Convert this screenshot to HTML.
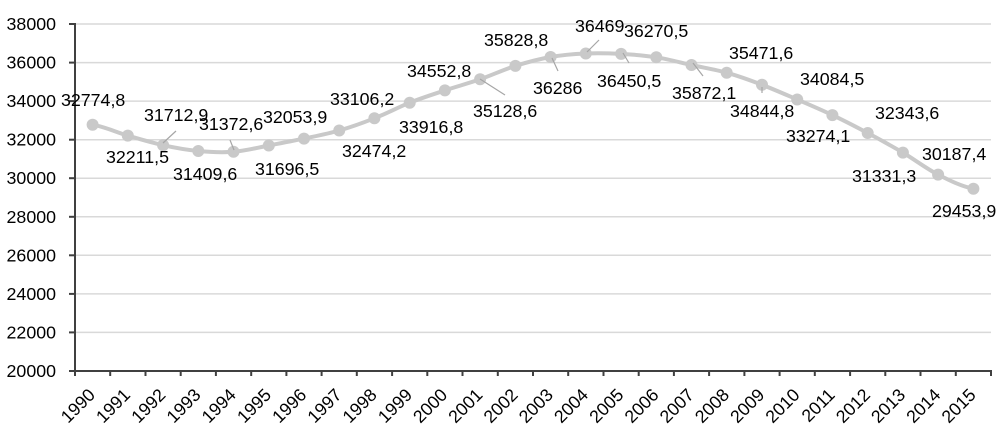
<!DOCTYPE html>
<html>
<head>
<meta charset="utf-8">
<style>
  html, body { margin: 0; padding: 0; background: #ffffff; }
  svg { display: block; }
  text { font-family: "Liberation Sans", sans-serif; font-size: 17.8px; fill: #000000; }
</style>
</head>
<body>
<svg width="1000" height="433" viewBox="0 0 1000 433" xmlns="http://www.w3.org/2000/svg">
  <!-- gridlines -->
  <g stroke="#d9d9d9" stroke-width="1.5">
    <line x1="75" y1="24" x2="991" y2="24"/>
    <line x1="75" y1="62.6" x2="991" y2="62.6"/>
    <line x1="75" y1="101.1" x2="991" y2="101.1"/>
    <line x1="75" y1="139.7" x2="991" y2="139.7"/>
    <line x1="75" y1="178.2" x2="991" y2="178.2"/>
    <line x1="75" y1="216.8" x2="991" y2="216.8"/>
    <line x1="75" y1="255.3" x2="991" y2="255.3"/>
    <line x1="75" y1="293.9" x2="991" y2="293.9"/>
    <line x1="75" y1="332.4" x2="991" y2="332.4"/>
  </g>
  <!-- axes -->
  <g stroke="#404040" stroke-width="2">
    <line x1="75" y1="23" x2="75" y2="372"/>
    <line x1="74" y1="371" x2="992" y2="371"/>
    <line x1="69" y1="24" x2="75" y2="24"/>
    <line x1="69" y1="62.6" x2="75" y2="62.6"/>
    <line x1="69" y1="101.1" x2="75" y2="101.1"/>
    <line x1="69" y1="139.7" x2="75" y2="139.7"/>
    <line x1="69" y1="178.2" x2="75" y2="178.2"/>
    <line x1="69" y1="216.8" x2="75" y2="216.8"/>
    <line x1="69" y1="255.3" x2="75" y2="255.3"/>
    <line x1="69" y1="293.9" x2="75" y2="293.9"/>
    <line x1="69" y1="332.4" x2="75" y2="332.4"/>
    <line x1="69" y1="371" x2="75" y2="371"/>
  </g>
  <!-- y labels -->
  <g text-anchor="end">
    <text x="56" y="30">38000</text>
    <text x="56" y="68.6">36000</text>
    <text x="56" y="107.1">34000</text>
    <text x="56" y="145.7">32000</text>
    <text x="56" y="184.2">30000</text>
    <text x="56" y="222.8">28000</text>
    <text x="56" y="261.3">26000</text>
    <text x="56" y="299.9">24000</text>
    <text x="56" y="338.4">22000</text>
    <text x="56" y="377">20000</text>
  </g>
  <!-- x ticks -->
  <g stroke="#404040" stroke-width="2">
    <line x1="75" y1="371" x2="75" y2="376"/>
    <line x1="110.2" y1="371" x2="110.2" y2="376"/>
    <line x1="145.5" y1="371" x2="145.5" y2="376"/>
    <line x1="180.7" y1="371" x2="180.7" y2="376"/>
    <line x1="215.9" y1="371" x2="215.9" y2="376"/>
    <line x1="251.2" y1="371" x2="251.2" y2="376"/>
    <line x1="286.4" y1="371" x2="286.4" y2="376"/>
    <line x1="321.6" y1="371" x2="321.6" y2="376"/>
    <line x1="356.8" y1="371" x2="356.8" y2="376"/>
    <line x1="392.1" y1="371" x2="392.1" y2="376"/>
    <line x1="427.3" y1="371" x2="427.3" y2="376"/>
    <line x1="462.5" y1="371" x2="462.5" y2="376"/>
    <line x1="497.8" y1="371" x2="497.8" y2="376"/>
    <line x1="533" y1="371" x2="533" y2="376"/>
    <line x1="568.2" y1="371" x2="568.2" y2="376"/>
    <line x1="603.5" y1="371" x2="603.5" y2="376"/>
    <line x1="638.7" y1="371" x2="638.7" y2="376"/>
    <line x1="673.9" y1="371" x2="673.9" y2="376"/>
    <line x1="709.1" y1="371" x2="709.1" y2="376"/>
    <line x1="744.4" y1="371" x2="744.4" y2="376"/>
    <line x1="779.6" y1="371" x2="779.6" y2="376"/>
    <line x1="814.8" y1="371" x2="814.8" y2="376"/>
    <line x1="850.1" y1="371" x2="850.1" y2="376"/>
    <line x1="885.3" y1="371" x2="885.3" y2="376"/>
    <line x1="920.5" y1="371" x2="920.5" y2="376"/>
    <line x1="955.8" y1="371" x2="955.8" y2="376"/>
    <line x1="991" y1="371" x2="991" y2="376"/>
  </g>
  <!-- x labels -->
  <g text-anchor="end">
    <text transform="translate(96.1,396) rotate(-45)">1990</text>
    <text transform="translate(131.3,396) rotate(-45)">1991</text>
    <text transform="translate(166.6,396) rotate(-45)">1992</text>
    <text transform="translate(201.8,396) rotate(-45)">1993</text>
    <text transform="translate(237,396) rotate(-45)">1994</text>
    <text transform="translate(272.3,396) rotate(-45)">1995</text>
    <text transform="translate(307.5,396) rotate(-45)">1996</text>
    <text transform="translate(342.7,396) rotate(-45)">1997</text>
    <text transform="translate(377.9,396) rotate(-45)">1998</text>
    <text transform="translate(413.2,396) rotate(-45)">1999</text>
    <text transform="translate(448.4,396) rotate(-45)">2000</text>
    <text transform="translate(483.6,396) rotate(-45)">2001</text>
    <text transform="translate(518.9,396) rotate(-45)">2002</text>
    <text transform="translate(554.1,396) rotate(-45)">2003</text>
    <text transform="translate(589.3,396) rotate(-45)">2004</text>
    <text transform="translate(624.6,396) rotate(-45)">2005</text>
    <text transform="translate(659.8,396) rotate(-45)">2006</text>
    <text transform="translate(695,396) rotate(-45)">2007</text>
    <text transform="translate(730.2,396) rotate(-45)">2008</text>
    <text transform="translate(765.5,396) rotate(-45)">2009</text>
    <text transform="translate(800.7,396) rotate(-45)">2010</text>
    <text transform="translate(835.9,396) rotate(-45)">2011</text>
    <text transform="translate(871.2,396) rotate(-45)">2012</text>
    <text transform="translate(906.4,396) rotate(-45)">2013</text>
    <text transform="translate(941.6,396) rotate(-45)">2014</text>
    <text transform="translate(976.9,396) rotate(-45)">2015</text>
  </g>
  <!-- series line (smoothed) -->
  <path fill="none" stroke="#c9c9c9" stroke-width="4" stroke-linejoin="round" stroke-linecap="round"
    d="M92.6,124.7
       C104.3,126.5 116.1,132.2 127.8,135.6
       C139.5,139.0 151.4,142.6 163.1,145.2
       C174.8,147.8 186.6,149.9 198.3,151.0
       C210.0,152.1 221.8,152.7 233.5,151.8
       C245.2,150.9 257.1,147.7 268.8,145.5
       C280.5,143.3 292.3,141.1 304.0,138.6
       C315.7,136.1 327.5,133.9 339.2,130.5
       C350.9,127.1 362.7,122.9 374.4,118.3
       C386.1,113.7 398.0,107.4 409.7,102.7
       C421.4,98.0 433.2,94.3 444.9,90.4
       C456.6,86.5 468.4,83.4 480.1,79.3
       C491.8,75.2 503.7,69.6 515.4,65.9
       C527.1,62.2 538.9,59.1 550.6,57.0
       C562.3,54.9 574.1,54.0 585.8,53.5
       C597.5,53.0 609.4,53.3 621.1,53.9
       C632.8,54.5 644.6,55.5 656.3,57.3
       C668.0,59.1 679.8,62.4 691.5,65.0
       C703.2,67.6 715.0,69.4 726.7,72.7
       C738.4,76.0 750.3,80.3 762.0,84.8
       C773.7,89.3 785.5,94.5 797.2,99.5
       C808.9,104.5 820.7,109.5 832.4,115.1
       C844.1,120.7 856.0,126.8 867.7,133.0
       C879.4,139.2 891.2,145.7 902.9,152.6
       C914.6,159.5 926.4,168.6 938.1,174.6
       C949.8,180.6 961.7,186.4 973.4,188.7"/>
  <!-- markers -->
  <g fill="#c9c9c9">
    <circle cx="92.6" cy="124.7" r="6"/>
    <circle cx="127.8" cy="135.6" r="6"/>
    <circle cx="163.1" cy="145.2" r="6"/>
    <circle cx="198.3" cy="151.0" r="6"/>
    <circle cx="233.5" cy="151.8" r="6"/>
    <circle cx="268.8" cy="145.5" r="6"/>
    <circle cx="304.0" cy="138.6" r="6"/>
    <circle cx="339.2" cy="130.5" r="6"/>
    <circle cx="374.4" cy="118.3" r="6"/>
    <circle cx="409.7" cy="102.7" r="6"/>
    <circle cx="444.9" cy="90.4" r="6"/>
    <circle cx="480.1" cy="79.3" r="6"/>
    <circle cx="515.4" cy="65.9" r="6"/>
    <circle cx="550.6" cy="57.0" r="6"/>
    <circle cx="585.8" cy="53.5" r="6"/>
    <circle cx="621.1" cy="53.9" r="6"/>
    <circle cx="656.3" cy="57.3" r="6"/>
    <circle cx="691.5" cy="65.0" r="6"/>
    <circle cx="726.7" cy="72.7" r="6"/>
    <circle cx="762.0" cy="84.8" r="6"/>
    <circle cx="797.2" cy="99.5" r="6"/>
    <circle cx="832.4" cy="115.1" r="6"/>
    <circle cx="867.7" cy="133.0" r="6"/>
    <circle cx="902.9" cy="152.6" r="6"/>
    <circle cx="938.1" cy="174.6" r="6"/>
    <circle cx="973.4" cy="188.7" r="6"/>
  </g>
  <!-- leader lines -->
  <g stroke="#a6a6a6" stroke-width="1.2">
    <line x1="176" y1="131" x2="163" y2="143"/>
    <line x1="230" y1="140" x2="234" y2="150"/>
    <line x1="480" y1="79" x2="505" y2="95"/>
    <line x1="552" y1="58" x2="558" y2="71"/>
    <line x1="599" y1="40" x2="587" y2="52"/>
    <line x1="623" y1="53" x2="629" y2="63"/>
    <line x1="693" y1="63" x2="703" y2="76"/>
    <line x1="762" y1="87" x2="762" y2="93"/>
  </g>
  <!-- data labels -->
  <g>
    <text x="61" y="106">32774,8</text>
    <text x="106" y="163">32211,5</text>
    <text x="144" y="121">31712,9</text>
    <text x="173" y="180">31409,6</text>
    <text x="199" y="130">31372,6</text>
    <text x="255" y="175">31696,5</text>
    <text x="263" y="123">32053,9</text>
    <text x="342" y="157">32474,2</text>
    <text x="330" y="105">33106,2</text>
    <text x="399" y="133">33916,8</text>
    <text x="407" y="77">34552,8</text>
    <text x="473" y="117">35128,6</text>
    <text x="484" y="46">35828,8</text>
    <text x="533" y="94">36286</text>
    <text x="575" y="32">36469</text>
    <text x="597" y="87">36450,5</text>
    <text x="624" y="37">36270,5</text>
    <text x="672" y="99">35872,1</text>
    <text x="729" y="59">35471,6</text>
    <text x="730" y="117">34844,8</text>
    <text x="800" y="85">34084,5</text>
    <text x="786" y="142">33274,1</text>
    <text x="875" y="119">32343,6</text>
    <text x="852" y="182">31331,3</text>
    <text x="922" y="160">30187,4</text>
    <text x="932" y="217">29453,9</text>
  </g>
</svg>
</body>
</html>
